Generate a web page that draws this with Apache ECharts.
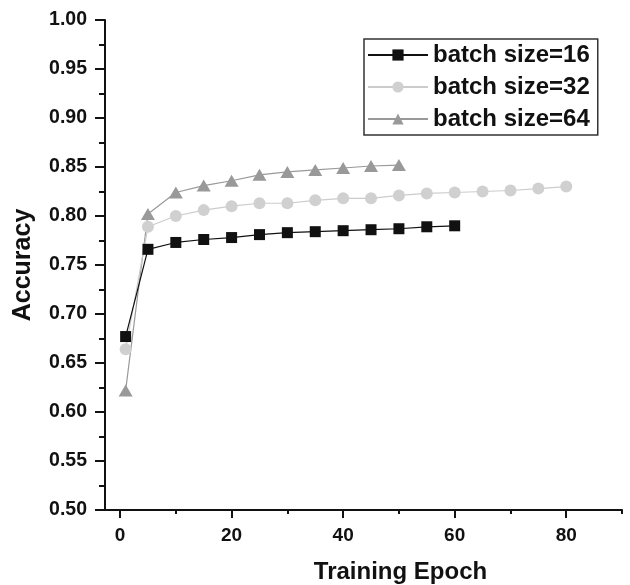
<!DOCTYPE html>
<html>
<head>
<meta charset="utf-8">
<script src="https://cdn.jsdelivr.net/npm/echarts@6/dist/echarts.min.js"></script>
<style>
html,body{margin:0;padding:0;background:#fff;}
#chart{width:630px;height:585px;}
</style>
</head>
<body>
<div id="chart"></div>
<script>
const seriesNames = ['batch size=16', 'batch size=32', 'batch size=64'];
const epochs16 = [1, 5, 10, 15, 20, 25, 30, 35, 40, 45, 50, 55, 60];
const acc16 = [0.677, 0.766, 0.773, 0.776, 0.778, 0.781, 0.783, 0.784, 0.785, 0.786, 0.787, 0.789, 0.790];
const epochs32 = [1, 5, 10, 15, 20, 25, 30, 35, 40, 45, 50, 55, 60, 65, 70, 75, 80];
const acc32 = [0.664, 0.789, 0.800, 0.806, 0.810, 0.813, 0.813, 0.816, 0.818, 0.818, 0.821, 0.823, 0.824, 0.825, 0.826, 0.828, 0.830];
const epochs64 = [1, 5, 10, 15, 20, 25, 30, 35, 40, 45, 50];
const acc64 = [0.622, 0.802, 0.824, 0.831, 0.836, 0.842, 0.845, 0.847, 0.849, 0.851, 0.852];
const xMajorTicks = [0, 20, 40, 60, 80];
const xMinorTicks = [10, 30, 50, 70, 90];

const FONT = 'Arial, "Liberation Sans", sans-serif';
const zip = (xs, ys) => xs.map((x, i) => [x, ys[i]]);

const chart = echarts.init(document.getElementById('chart'), null, {renderer: 'canvas'});
chart.setOption({
  animation: false,
  backgroundColor: '#fff',
  grid: {left: 105, right: 8, top: 20, bottom: 75, containLabel: false, outerBoundsMode: 'none'},
  legend: {
    left: 364, top: 39,
    orient: 'vertical',
    data: seriesNames,
    borderColor: '#333', borderWidth: 1.5, borderRadius: 0,
    padding: [4, 8, 4, 3],
    itemWidth: 60, itemHeight: 14, itemGap: 8,
    textStyle: {fontFamily: FONT, fontWeight: 'bold', fontSize: 24, color: '#111'}
  },
  xAxis: [{
    type: 'value', min: -2.7, max: 90,
    name: 'Training Epoch', nameLocation: 'middle', nameGap: 50,
    nameTextStyle: {fontFamily: FONT, fontWeight: 'bold', fontSize: 24, color: '#111', padding: [0, 0, 0, 74]},
    axisLine: {show: true, onZero: false, lineStyle: {color: '#111', width: 2}},
    axisTick: {show: true, length: 8, customValues: xMajorTicks, lineStyle: {color: '#111', width: 2}},
    axisLabel: {show: true, customValues: xMajorTicks, margin: 16, fontFamily: FONT, fontWeight: 'bold', fontSize: 19, color: '#111'},
    splitLine: {show: false}
  }, {
    type: 'value', min: -2.7, max: 90, position: 'bottom',
    axisLine: {show: false, onZero: false},
    axisTick: {show: true, length: 4, customValues: xMinorTicks, lineStyle: {color: '#111', width: 2}},
    axisLabel: {show: false},
    splitLine: {show: false}
  }],
  yAxis: {
    type: 'value', min: 0.5, max: 1.0, interval: 0.05,
    name: 'Accuracy', nameLocation: 'middle', nameGap: 69, nameRotate: 90,
    nameTextStyle: {fontFamily: FONT, fontWeight: 'bold', fontSize: 25, color: '#111'},
    axisLine: {show: true, onZero: false, lineStyle: {color: '#111', width: 2}},
    axisTick: {show: true, length: 10, lineStyle: {color: '#111', width: 2}},
    minorTick: {show: true, splitNumber: 2, length: 6, lineStyle: {color: '#111', width: 2}},
    axisLabel: {margin: 18, fontFamily: FONT, fontWeight: 'bold', fontSize: 19.5, color: '#111',
      formatter: v => v.toFixed(2)},
    splitLine: {show: false}
  },
  series: [{
    name: seriesNames[2], type: 'line', xAxisIndex: 0,
    data: zip(epochs64, acc64),
    symbol: 'triangle', symbolSize: [14, 12],
    lineStyle: {color: '#999', width: 1.2},
    itemStyle: {color: '#999'}, z: 2
  }, {
    name: seriesNames[1], type: 'line', xAxisIndex: 0,
    data: zip(epochs32, acc32),
    symbol: 'circle', symbolSize: 12,
    lineStyle: {color: '#ccc', width: 1.2},
    itemStyle: {color: '#d0d0d0'}, z: 3
  }, {
    name: seriesNames[0], type: 'line', xAxisIndex: 0,
    data: zip(epochs16, acc16),
    symbol: 'rect', symbolSize: 11,
    lineStyle: {color: '#111', width: 1.2},
    itemStyle: {color: '#111'}, z: 4
  }]
});
</script>
</body>
</html>
